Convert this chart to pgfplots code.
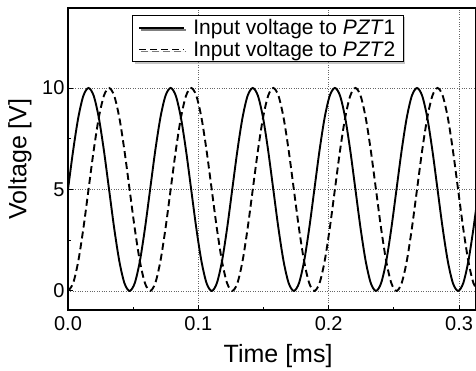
\documentclass[border=0pt]{standalone}
\usepackage{pgfplots}
\pgfplotsset{compat=1.18}
\usepackage{pgfplotstable}
\usepackage{fontspec}
\setmainfont{Liberation Sans}
\usetikzlibrary{shadows}

\pgfplotstableread{
x s d
0 5 0
0.00394 6.913 0.381
0.00788 8.536 1.464
0.01181 9.619 3.087
0.01575 10 5
0.01969 9.619 6.913
0.02363 8.536 8.536
0.02756 6.913 9.619
0.0315 5 10
0.03544 3.087 9.619
0.03938 1.464 8.536
0.04331 0.381 6.913
0.04725 0 5
0.05119 0.381 3.087
0.05513 1.464 1.464
0.05906 3.087 0.381
0.063 5 0
0.06694 6.913 0.381
0.07088 8.536 1.464
0.07481 9.619 3.087
0.07875 10 5
0.08269 9.619 6.913
0.08663 8.536 8.536
0.09056 6.913 9.619
0.0945 5 10
0.09844 3.087 9.619
0.10238 1.464 8.536
0.10631 0.381 6.913
0.11025 0 5
0.11419 0.381 3.087
0.11813 1.464 1.464
0.12206 3.087 0.381
0.126 5 0
0.12994 6.913 0.381
0.13388 8.536 1.464
0.13781 9.619 3.087
0.14175 10 5
0.14569 9.619 6.913
0.14963 8.536 8.536
0.15356 6.913 9.619
0.1575 5 10
0.16144 3.087 9.619
0.16538 1.464 8.536
0.16931 0.381 6.913
0.17325 0 5
0.17719 0.381 3.087
0.18113 1.464 1.464
0.18506 3.087 0.381
0.189 5 0
0.19294 6.913 0.381
0.19688 8.536 1.464
0.20081 9.619 3.087
0.20475 10 5
0.20869 9.619 6.913
0.21263 8.536 8.536
0.21656 6.913 9.619
0.2205 5 10
0.22444 3.087 9.619
0.22838 1.464 8.536
0.23231 0.381 6.913
0.23625 0 5
0.24019 0.381 3.087
0.24413 1.464 1.464
0.24806 3.087 0.381
0.252 5 0
0.25594 6.913 0.381
0.25988 8.536 1.464
0.26381 9.619 3.087
0.26775 10 5
0.27169 9.619 6.913
0.27563 8.536 8.536
0.27956 6.913 9.619
0.2835 5 10
0.28744 3.087 9.619
0.29138 1.464 8.536
0.29531 0.381 6.913
0.29925 0 5
0.30319 0.381 3.087
0.30713 1.464 1.464
0.31106 3.087 0.381
0.315 5 0
}\datatable

\begin{document}
\begin{tikzpicture}
\begin{axis}[
  at={(0pt,0pt)}, anchor=south west,
  scale only axis,
  width=408pt, height=302pt,
  xmin=0, xmax=0.313,
  ymin=-0.94, ymax=13.94,
  xtick={0,0.1,0.2,0.3},
  ytick={0,5,10},
  minor x tick num=1,
  minor y tick num=1,
  xtick pos=bottom, ytick pos=left,
  tick align=inside,
  major tick length=5pt, minor tick length=3pt,
  every tick/.style={black, line width=0.9pt},
  axis line style={line width=1.5pt},
  grid=major,
  major grid style={dotted, line width=0.8pt, black!60},
  /pgf/number format/assume math mode=true,
  xticklabel style={yshift=-3pt, /pgf/number format/.cd, fixed, fixed zerofill, precision=1},
  yticklabel style={/pgf/number format/.cd, fixed, precision=0},
  tick label style={font=\fontsize{20}{20}\selectfont},
  xlabel={Time [ms]},
  ylabel={Voltage [V]},
  label style={font=\fontsize{25}{27}\selectfont},
  xlabel style={at={(axis description cs:0.515,-0.152)}, anchor=center},
  ylabel style={at={(axis description cs:-0.1176,0.5)}, anchor=center},
  legend style={at={(0.157,0.977)}, anchor=north west,
    font=\fontsize{21}{23}\selectfont, draw=black, line width=0.9pt,
    fill=white, inner xsep=6pt, inner ysep=3pt, row sep=3pt,
    drop shadow={shadow xshift=2pt, shadow yshift=-2pt, fill=black!45},
    nodes={inner xsep=2pt, inner ysep=1pt}},
  legend cell align=left,
  legend image code/.code={\draw[#1] (0pt,0pt) -- (45pt,0pt);},
]
\addplot[black, line width=1.9pt, smooth] table[x=x, y=s] {\datatable};
\addlegendentry{\hspace{6pt}Input voltage to \textit{PZT}1}
\addplot[black, line width=1.9pt, smooth, dash pattern=on 7pt off 4pt] table[x=x, y=d] {\datatable};
\addlegendentry{\hspace{6pt}Input voltage to \textit{PZT}2}
\end{axis}
\pgfresetboundingbox
\path[use as bounding box] (-68pt,-60pt) rectangle (408pt,310pt);
\end{tikzpicture}
\end{document}
